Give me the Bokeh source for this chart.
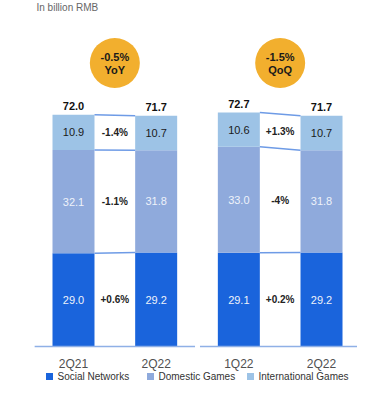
from bokeh.plotting import figure
from bokeh.models import ColumnDataSource, Range1d, Label
from bokeh.embed import file_html
from bokeh.resources import INLINE
from bokeh.core.properties import value

# ---------------- data ----------------
categories = ["2Q21", "2Q22", "1Q22", "2Q22"]
social = [29.0, 29.2, 29.1, 29.2]
domestic = [32.1, 31.8, 33.0, 31.8]
international = [10.9, 10.7, 10.6, 10.7]
totals = [72.0, 71.7, 72.7, 71.7]
change_social = ["+0.6%", "+0.2%"]
change_domestic = ["-1.1%", "-4%"]
change_international = ["-1.4%", "+1.3%"]
badge_values = ["-0.5%", "-1.5%"]
badge_labels = ["YoY", "QoQ"]
series_names = ["Social Networks", "Domestic Games", "International Games"]
colors = ["#1A64DC", "#8FAADC", "#9DC3E6"]
unit_note = "In billion RMB"

# ---------------- layout ----------------
W, H = 357, 381
PX = 82.67          # px per category slot
PY = 3.218          # px per billion
X0 = 73             # px of first bar center
BASE = 346          # px of baseline from top
BAR_W = 0.508
FONT = "Liberation Sans"

p = figure(width=W, height=H, output_backend="svg", toolbar_location=None,
           min_border=0, min_border_left=0, min_border_right=0,
           min_border_top=0, min_border_bottom=0)
p.x_range = Range1d(-X0 / PX, (W - X0) / PX)
p.y_range = Range1d(-(H - BASE) / PY, BASE / PY)
p.axis.visible = False
p.grid.visible = False
p.outline_line_color = None
p.background_fill_color = "white"
p.border_fill_color = "white"

xs = list(range(len(categories)))
s_top = [a for a in social]
d_top = [a + b for a, b in zip(social, domestic)]
i_top = [a + b + c for a, b, c in zip(social, domestic, international)]

src = ColumnDataSource(dict(
    x=xs, cat=categories,
    s0=[0] * 4, s1=s_top, d1=d_top, i1=i_top,
    s_mid=[v / 2 for v in social],
    d_mid=[a + b / 2 for a, b in zip(social, domestic)],
    i_mid=[a + b / 2 for a, b in zip(d_top, international)],
    s_lab=[f"{v:.1f}" for v in social],
    d_lab=[f"{v:.1f}" for v in domestic],
    i_lab=[f"{v:.1f}" for v in international],
    tot=i_top, tot_lab=[f"{v:.1f}" for v in totals],
))

p.vbar(x="x", width=BAR_W, bottom="s0", top="s1", source=src,
       fill_color=colors[0], line_color=None)
p.vbar(x="x", width=BAR_W, bottom="s1", top="d1", source=src,
       fill_color=colors[1], line_color=None)
p.vbar(x="x", width=BAR_W, bottom="d1", top="i1", source=src,
       fill_color=colors[2], line_color=None)

fnt = value(FONT)
p.text(x="x", y="s_mid", text="s_lab", source=src, text_align="center",
       text_baseline="middle", text_font=fnt, text_font_size="11px",
       text_color="#EEF2FA")
p.text(x="x", y="d_mid", text="d_lab", source=src, text_align="center",
       text_baseline="middle", text_font=fnt, text_font_size="11px",
       text_color="#EEF2FA")
p.text(x="x", y="i_mid", text="i_lab", source=src, text_align="center",
       text_baseline="middle", text_font=fnt, text_font_size="11px",
       text_color="#1a1a1a")
p.text(x="x", y="tot", text="tot_lab", source=src, text_align="center",
       text_baseline="bottom", y_offset=-5, text_font=fnt,
       text_font_size="11px", text_font_style="bold", text_color="#111111")

# category labels
p.text(x="x", y="s0", text="cat", source=src, text_align="center",
       text_baseline="middle", y_offset=17, text_font=fnt,
       text_font_size="12px", text_color="#505050")

# groups: (0,1) and (2,3)
groups = [(0, 1), (2, 3)]
for g, (a, b) in enumerate(groups):
    mid = (a + b) / 2
    # baseline
    p.segment(x0=[mid - 0.97], y0=[0], x1=[mid + 0.97], y1=[0],
              line_color="#8FB0E6", line_width=1.5)
    # connectors
    left = [s_top[a], d_top[a], i_top[a]]
    right = [s_top[b], d_top[b], i_top[b]]
    p.segment(x0=[a + BAR_W / 2] * 3, y0=left, x1=[b - BAR_W / 2] * 3,
              y1=right, line_color="#6E9BE6", line_width=1.5)
    # change labels
    ys = [(social[a] + social[b]) / 4,
          ((social[a] + domestic[a] / 2) + (social[b] + domestic[b] / 2)) / 2,
          ((d_top[a] + international[a] / 2) + (d_top[b] + international[b] / 2)) / 2]
    labs = [change_social[g], change_domestic[g], change_international[g]]
    p.text(x=[mid] * 3, y=ys, text=labs, text_align="center",
           text_baseline="middle", text_font=fnt, text_font_size="10px",
           text_font_style="bold", text_color="#222222")
    # badge
    by = (BASE - 62.5) / PY
    p.scatter(x=[mid], y=[by], size=50, marker="circle",
              fill_color="#F2AF2E", line_color=None)
    p.text(x=[mid], y=[by], text=[badge_values[g]], text_align="center",
           text_baseline="middle", y_offset=-6.5, text_font=fnt,
           text_font_size="11px", text_font_style="bold", text_color="#1a1a1a")
    p.text(x=[mid], y=[by], text=[badge_labels[g]], text_align="center",
           text_baseline="middle", y_offset=6.5, text_font=fnt,
           text_font_size="11px", text_font_style="bold", text_color="#1a1a1a")

# legend (manual)
leg_px = [49, 150, 250]
leg_x = [(v - X0) / PX for v in leg_px]
leg_y = -(376 - BASE) / PY
p.scatter(x=leg_x, y=[leg_y] * 3, marker="square", size=7,
          fill_color=colors, line_color=None)
p.text(x=leg_x, y=[leg_y] * 3, text=series_names, x_offset=8,
       text_align="left", text_baseline="middle", text_font=fnt,
       text_font_size="10px", text_color="#333333")

p.add_layout(Label(x=36, y=H - 1, x_units="screen", y_units="screen",
                   text=unit_note, text_baseline="top", text_font=FONT,
                   text_font_size="10px", text_color="#666666"))

open("out.html", "w").write(file_html(p, INLINE))
